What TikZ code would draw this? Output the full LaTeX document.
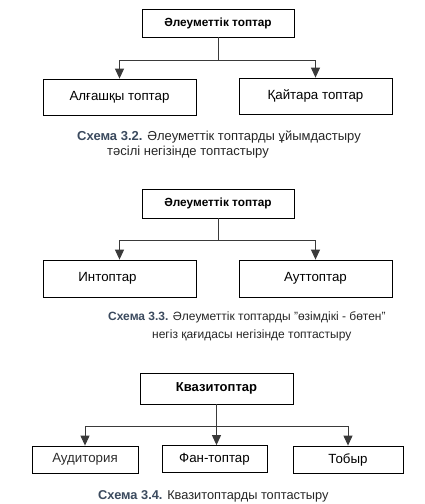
\documentclass[tikz,border=0pt]{standalone}
\usepackage{fontspec}
\setmainfont{Liberation Sans}
\usepackage{xcolor}
\usetikzlibrary{arrows.meta}
\definecolor{capblue}{HTML}{3B4A5E}
\definecolor{linegray}{HTML}{3A3A3A}
\tikzset{
  box/.style={draw=black, line width=0.8pt, minimum width=153pt, minimum height=36pt, inner sep=0pt, font=\fontsize{13.3}{15}\selectfont},
  headbox/.style={box, minimum width=152pt, minimum height=28pt, font=\bfseries\fontsize{11.8}{14}\selectfont},
  smallbox/.style={box, minimum height=27pt},
  link/.style={draw=linegray, line width=1pt},
  tolink/.style={link, -{Triangle[width=9pt,length=10pt]}},
  captext/.style={anchor=base west, inner sep=0pt, text=black!85, font=\fontsize{13}{16}\selectfont},
}
\newcommand{\caplabel}[1]{\textcolor{capblue}{\bfseries #1}}
\begin{document}
\begin{tikzpicture}[x=1pt,y=-1pt]
				\useasboundingbox (0,0) rectangle (424,504);
				% Схема 3.2
				\node[headbox] (top1) at (218,23) {Әлеуметтік топтар};
				\node[box] (prim) at (119.5,97) {Алғашқы топтар};
				\node[box] (sec) at (315.5,96) {Қайтара топтар};
				\coordinate (j1) at (218,60);
				\draw[link] (top1.south) -- (j1);
				\draw[tolink] (j1) -| (prim.north);
				\draw[tolink] (j1) -| (sec.north);
				\node[captext] (cap1a) at (77,140) {\caplabel{Схема 3.2.} Әлеуметтік топтарды ұйымдастыру};
				\node[captext] (cap1b) at (107,155) {тәсілі негізінде топтастыру};
				% Схема 3.3
				\node[headbox, minimum height=29pt] (top2) at (218,203.5) {Әлеуметтік топтар};
				\node[box, minimum height=37pt] (ingr) at (119.5,278.5) {\hspace*{-24pt}Интоптар};
				\node[box, minimum height=37pt] (outgr) at (315.5,278.5) {Ауттоптар};
				\coordinate (j2) at (218,240);
				\draw[link] (top2.south) -- (j2);
				\draw[tolink] (j2) -| (ingr.north);
				\draw[tolink] (j2) -| (outgr.north);
				\node[captext, font=\fontsize{12}{15}\selectfont] (cap2a) at (108,320) {\caplabel{Схема 3.3.} Әлеуметтік топтарды "өзімдікі - бөтен"};
				\node[captext, font=\fontsize{12}{15}\selectfont] (cap2b) at (152,338) {негіз қағидасы негізінде топтастыру};
				% Схема 3.4
				\node[headbox, minimum width=153pt, minimum height=31pt, font=\bfseries\fontsize{13}{15}\selectfont] (top3) at (216.5,388.5) {Квазитоптар};
				\node[smallbox, minimum width=106pt, text=black!82] (aud) at (85,459.5) {Аудитория};
				\node[smallbox, minimum width=105pt] (fan) at (214.5,459) {Фан-топтар};
				\node[smallbox, minimum width=110pt] (mob) at (348,459.5) {Тобыр};
				\coordinate (j3) at (216.5,426);
				\draw[tolink] (top3.south) -- (top3.south |- fan.north);
				\draw[tolink] (j3) -| (aud.north);
				\draw[tolink] (j3) -| (mob.north);
				\node[captext, font=\fontsize{12.8}{15}\selectfont] (cap3) at (98,499) {\caplabel{Схема 3.4.} Квазитоптарды топтастыру};
\end{tikzpicture}
\end{document}
